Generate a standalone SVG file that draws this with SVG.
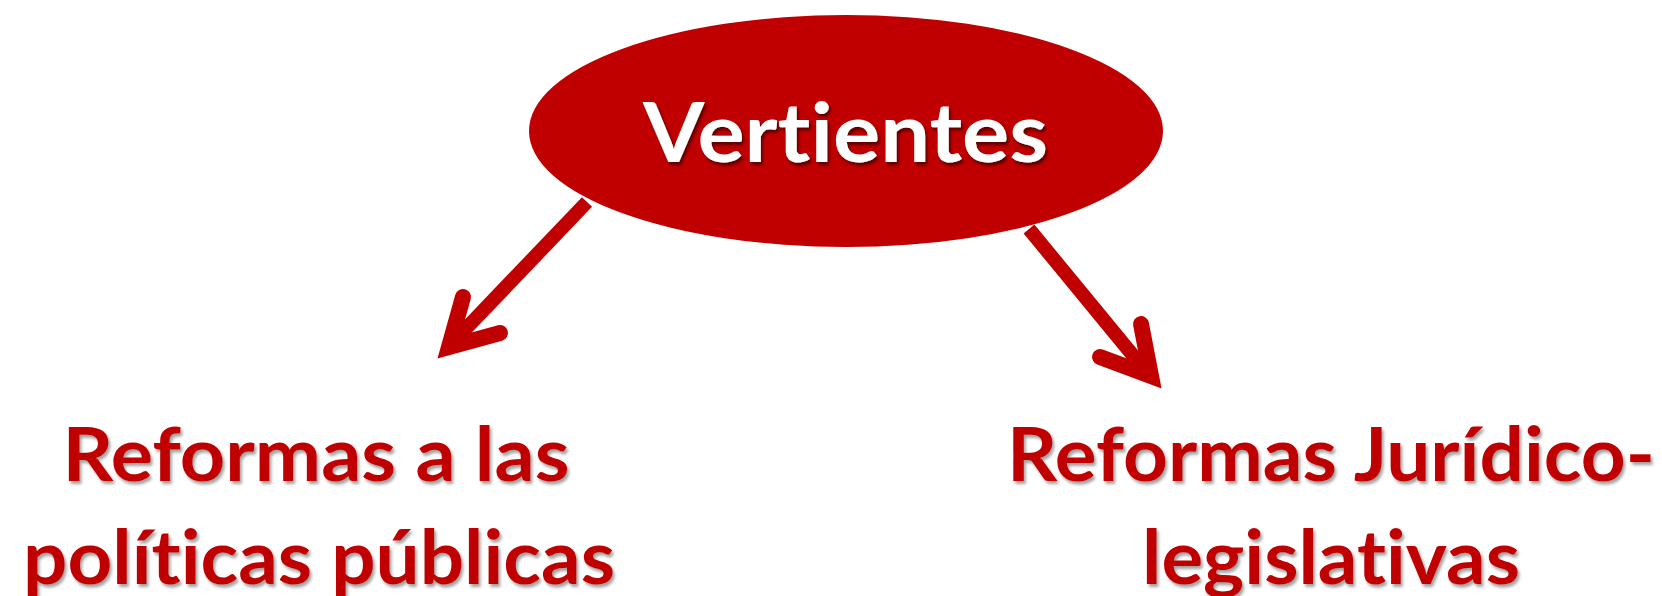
<svg xmlns="http://www.w3.org/2000/svg" width="1662" height="596" viewBox="0 0 1662 596">
  <defs>
    <filter id="shW" x="-10%" y="-20%" width="120%" height="150%">
      <feDropShadow dx="2" dy="3" stdDeviation="1.8" flood-color="#3a0000" flood-opacity="0.75"/>
    </filter>
    <filter id="shR" x="-10%" y="-20%" width="120%" height="150%">
      <feDropShadow dx="2" dy="3" stdDeviation="1.8" flood-color="#555" flood-opacity="0.55"/>
    </filter>
  </defs>
  <style>
    .lbl { font-family: Lato, "Open Sans", "Liberation Sans", sans-serif; font-weight: bold; text-anchor: middle; font-variant-ligatures: none; font-feature-settings: "liga" 0, "clig" 0; }
    .top { fill: #ffffff; font-size: 82px; filter: url(#shW); }
    .sub { fill: #C00000; font-size: 75px; filter: url(#shR); }
    .shaft { fill: none; stroke: #C00000; stroke-width: 14; stroke-linecap: butt; }
    .head { fill: none; stroke: #C00000; stroke-width: 16; stroke-linecap: round; stroke-linejoin: miter; stroke-miterlimit: 6; }
  </style>
  <rect width="1662" height="596" fill="#ffffff"/>
  <g id="node-vertientes">
    <ellipse cx="846" cy="131" rx="317" ry="116" fill="#C00000"/>
    <text class="lbl top" x="845.5" y="162" textLength="405" lengthAdjust="spacingAndGlyphs">Vertientes</text>
  </g>
  <g id="node-politicas">
    <text class="lbl sub" x="316" y="481" textLength="507" lengthAdjust="spacingAndGlyphs">Reformas a las</text>
    <text class="lbl sub" x="319" y="584" textLength="592" lengthAdjust="spacingAndGlyphs">políticas públicas</text>
  </g>
  <g id="node-juridico">
    <text class="lbl sub" x="1331" y="481" textLength="648" lengthAdjust="spacingAndGlyphs">Reformas Jurídico-</text>
    <text class="lbl sub" x="1331" y="584" textLength="378" lengthAdjust="spacingAndGlyphs">legislativas</text>
  </g>
  <g id="connectors">
    <path class="shaft" d="M587,202 L455,340"/>
    <path class="head" d="M463,297 L449,347 L500,333"/>
    <path class="shaft" d="M1029,229 L1145,370"/>
    <path class="head" d="M1141,324 L1151,376 L1100,357"/>
  </g>
</svg>
